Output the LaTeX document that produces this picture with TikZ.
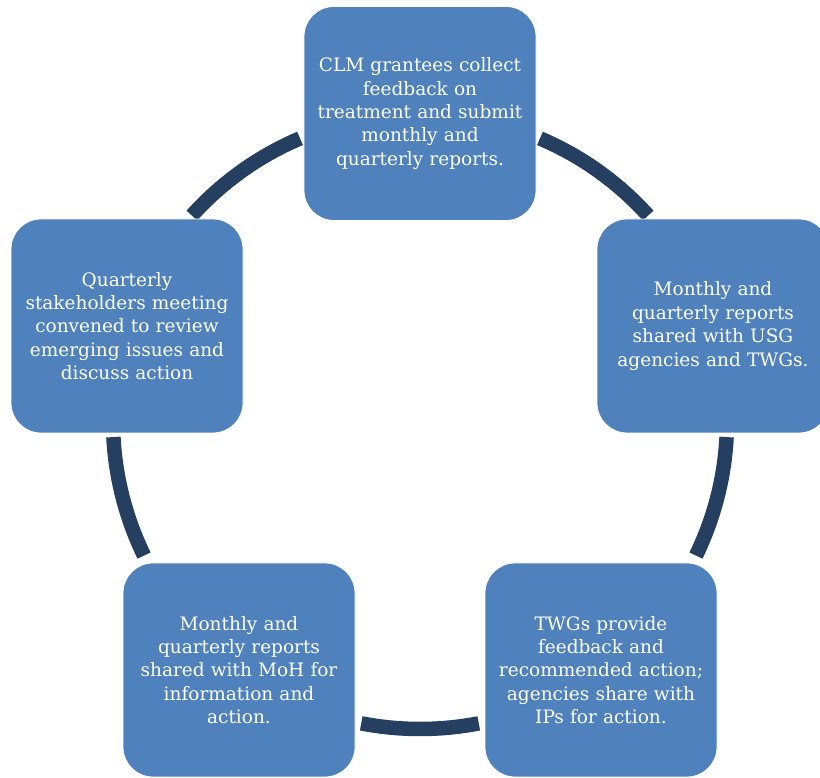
\documentclass[tikz,border=0pt]{standalone}
\usepackage{fontspec}
\setmainfont{DejaVu Serif}
\definecolor{boxblue}{HTML}{4F81BD}
\definecolor{ringnavy}{HTML}{243F60}
\begin{document}
\begin{tikzpicture}[x=1pt,y=1pt,
  stage/.style={rectangle, rounded corners=30pt, fill=boxblue, draw=white, line width=0.8pt,
    minimum width=232pt, minimum height=214pt, text width=225pt, align=center, text=white,
    font=\fontsize{18.5}{23.4}\selectfont, inner sep=0pt},
  ring/.style={draw=ringnavy, line width=14.5pt}]
\useasboundingbox (0,0) rectangle (820,778);
\clip (0,0) rectangle (820,778);
\coordinate (c) at (420,357);
% connecting ring segments
\draw[ring, shift={(c)}] (113:307) arc[start angle=113, end angle=138, radius=307];
\draw[ring, shift={(c)}] (42:307) arc[start angle=42, end angle=67, radius=307];
\draw[ring, shift={(c)}] (-26:307) arc[start angle=-26, end angle=-3, radius=307];
\draw[ring, shift={(c)}] (-101:308) arc[start angle=-101, end angle=-79, radius=308];
\draw[ring, shift={(c)}] (183:307) arc[start angle=183, end angle=206, radius=307];
% stages of the cycle
\node[stage] (collect) at (420,664.5) {CLM grantees collect\\feedback on\\treatment and submit\\monthly and\\quarterly reports.};
\node[stage] (usg) at (713,452) {Monthly and\\quarterly reports\\shared with USG\\agencies and TWGs.};
\node[stage] (twg) at (601,108) {TWGs provide\\feedback and\\recommended action;\\agencies share with\\IPs for action.};
\node[stage] (moh) at (239,108) {Monthly and\\quarterly reports\\shared with MoH for\\information and\\action.};
\node[stage] (meet) at (127,452) {Quarterly\\stakeholders meeting\\convened to review\\emerging issues and\\discuss action};
\end{tikzpicture}
\end{document}
